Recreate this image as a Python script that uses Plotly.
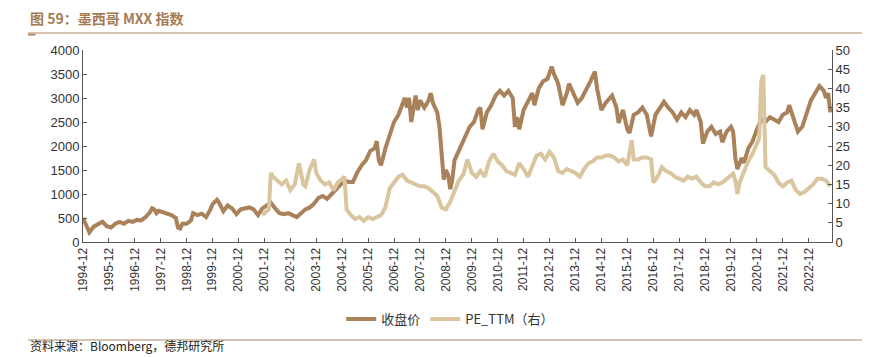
import plotly.graph_objects as go

close_dates = ["1994-12","1995-01","1995-03","1995-05","1995-07","1995-09","1995-11",
"1996-01","1996-03","1996-05","1996-07","1996-09","1996-11",
"1997-01","1997-03","1997-05","1997-07","1997-08","1997-09","1997-10","1997-11",
"1998-01","1998-03","1998-05","1998-07","1998-08","1998-09","1998-10","1998-12",
"1999-02","1999-03","1999-05","1999-07","1999-09","1999-11","1999-12",
"2000-02","2000-03","2000-05","2000-07","2000-09","2000-11",
"2001-01","2001-03","2001-05","2001-07","2001-09","2001-11",
"2002-01","2002-03","2002-05","2002-07","2002-09","2002-11",
"2003-01","2003-03","2003-05","2003-07","2003-09","2003-11",
"2004-01","2004-03","2004-05","2004-07","2004-09","2004-11",
"2005-01","2005-03","2005-05","2005-07","2005-09","2005-11",
"2006-01","2006-03","2006-04","2006-05","2006-06","2006-08","2006-10","2006-12",
"2007-02","2007-04","2007-05","2007-06","2007-07","2007-08","2007-09","2007-10","2007-11","2007-12",
"2008-02","2008-04","2008-05","2008-06","2008-07","2008-08","2008-09","2008-10","2008-11","2008-12",
"2009-01","2009-02","2009-03","2009-04","2009-05","2009-07","2009-09","2009-11",
"2010-01","2010-03","2010-04","2010-05","2010-07","2010-09","2010-11",
"2011-01","2011-03","2011-05","2011-07","2011-08","2011-09","2011-10","2011-12",
"2012-02","2012-04","2012-05","2012-07","2012-09","2012-11",
"2013-01","2013-02","2013-04","2013-06","2013-08","2013-09","2013-11",
"2014-01","2014-03","2014-05","2014-07","2014-08","2014-09","2014-10","2014-11","2014-12",
"2015-02","2015-04","2015-05","2015-07","2015-08","2015-10","2015-12",
"2016-01","2016-03","2016-05","2016-07","2016-09","2016-11",
"2017-01","2017-03","2017-05","2017-07","2017-09","2017-11",
"2018-01","2018-03","2018-05","2018-07","2018-08","2018-10","2018-11",
"2019-01","2019-03","2019-05","2019-07","2019-08","2019-10","2019-12",
"2020-01","2020-02","2020-03","2020-05","2020-06","2020-08","2020-10","2020-12",
"2021-02","2021-04","2021-06","2021-08","2021-10","2021-12",
"2022-02","2022-03","2022-05","2022-07","2022-09","2022-11",
"2023-01","2023-03","2023-05","2023-06","2023-07","2023-08","2023-09","2023-10"]
close_values = [500,380,200,320,380,420,330,
300,380,420,380,440,420,
460,450,520,620,700,680,600,650,
620,600,560,500,300,280,380,380,
450,600,560,590,520,680,790,
880,820,640,760,700,580,
680,700,720,680,560,700,
760,820,700,600,580,600,
560,520,600,680,720,800,
920,960,900,1000,1080,1200,
1280,1250,1250,1450,1600,1700,
1900,1950,2100,1700,1600,1950,2200,2500,
2650,2900,3000,2800,3000,2500,2800,3050,2750,2950,
2800,2950,3100,2900,2800,2700,2400,1700,1300,1500,
1400,1100,1300,1700,1800,2000,2200,2400,
2500,2750,2800,2350,2700,2850,3050,
3150,3050,3150,3000,2400,2600,2350,2750,
2950,3100,2850,3200,3350,3400,
3650,3500,3300,2850,3100,3300,3100,
2900,3000,3200,3350,3450,3550,3200,3000,2750,
2900,3000,3050,2800,2480,2750,2350,
2270,2650,2700,2800,2650,2200,
2650,2800,2920,2800,2700,2550,
2700,2600,2750,2650,2750,2500,2050,
2300,2400,2250,2300,2080,2300,2400,
2300,1750,1520,1750,1650,1950,2100,2350,
2550,2500,2600,2550,2500,2650,
2700,2850,2600,2300,2400,2650,
2950,3100,3250,3200,3150,3000,3100,2700]

pe_dates = ["2001-11","2001-12","2002-02","2002-03","2002-04","2002-06","2002-08","2002-10","2002-12",
"2003-02","2003-03","2003-04","2003-06","2003-07","2003-09","2003-11","2003-12",
"2004-02","2004-04","2004-06","2004-08","2004-10","2004-12",
"2005-01","2005-02","2005-04","2005-06","2005-08","2005-10","2005-12",
"2006-02","2006-04","2006-06","2006-08","2006-10","2006-12",
"2007-02","2007-04","2007-06","2007-08","2007-10","2007-12",
"2008-02","2008-04","2008-06","2008-08","2008-10","2008-12",
"2009-02","2009-04","2009-06","2009-08","2009-10","2009-12",
"2010-02","2010-04","2010-06","2010-08","2010-10","2010-12",
"2011-02","2011-04","2011-06","2011-08","2011-10","2011-12",
"2012-02","2012-04","2012-06","2012-08","2012-10","2012-12",
"2013-02","2013-04","2013-06","2013-08","2013-10","2013-12",
"2014-02","2014-04","2014-06","2014-08","2014-10","2014-12",
"2015-02","2015-04","2015-06","2015-08","2015-10","2015-12",
"2016-02","2016-03","2016-05","2016-07","2016-09","2016-11","2016-12",
"2017-02","2017-04","2017-06","2017-08","2017-10","2017-12",
"2018-02","2018-04","2018-06","2018-08","2018-10","2018-12",
"2019-02","2019-04","2019-06","2019-08","2019-10","2019-12",
"2020-01","2020-02","2020-03","2020-04","2020-06","2020-08","2020-10","2020-12",
"2021-01","2021-02","2021-03","2021-04","2021-06","2021-08","2021-10","2021-12",
"2022-02","2022-04","2022-06","2022-08","2022-10","2022-12",
"2023-02","2023-04","2023-06","2023-08","2023-10"]
pe_values = [7.0,7.5,8.5,18,17,16,15,16,13.5,
15,18,20.5,15,14.5,19,21.5,18,
16,15,15.5,13.5,15.5,16.5,
17,8.5,7,6,6.5,5.5,6.5,
6,6.5,7,9,14,15.5,
17,17.5,16,15.5,15,14.5,
14.5,14,13,12,9,8.5,
10.5,13.5,16,17.5,21.5,18,
17,18.5,17,21,23,21,
20,18.5,18,17.5,20.5,19,
17,20,22.5,23,21.5,23.5,
22,18.5,18,19,18.5,18,
17,19,20.5,21,22,22,
22.5,22.5,22,21,21.5,20,
26.5,21.5,21.5,22,22,21.5,15.5,
17,19.5,18.5,18,17,16.5,
16,17,16.5,17,15.5,14.5,
14.5,15.5,15,15.5,16.5,17.5,
17.8,16,12.5,15.5,18.5,21,23,25.5,
27,42,43.5,19.5,18.5,17.5,15.5,14.5,
15.5,16,13.5,12.5,13,14,
15,16.5,16.5,16,14.5]

x_ticks_start = "1994-12-01"
brown = "#A9815A"
light = "#D9C59E"

fig = go.Figure()
fig.add_trace(go.Scatter(x=close_dates, y=close_values, name="收盘价", mode="lines",
                         line=dict(color=brown, width=4)))
fig.add_trace(go.Scatter(x=pe_dates, y=pe_values, name="PE_TTM（右）", mode="lines",
                         line=dict(color=light, width=4), yaxis="y2"))

axis_font = dict(family="Liberation Sans, Arial, sans-serif", size=13, color="#333333")
fig.update_layout(
    width=862, height=349,
    margin=dict(l=75, r=38, t=42, b=115, autoexpand=False),
    paper_bgcolor="white", plot_bgcolor="white",
    showlegend=True,
    legend=dict(orientation="h", x=0.513, xanchor="center", xref="container",
                y=0.109, yanchor="middle", yref="container",
                font=dict(family="Noto Sans CJK SC, Liberation Sans", size=13, color="#333333"),
                itemwidth=30, tracegroupgap=0),
    xaxis=dict(type="date", range=["1994-12-01", "2023-10-25"], tick0=x_ticks_start, dtick="M12",
               tickformat="%Y-%m", tickangle=-90, ticks="inside", ticklen=4, tickcolor="#555555",
               showline=True, linecolor="#555555", linewidth=1, showgrid=False, zeroline=False,
               automargin=False,
               tickfont=dict(family="Liberation Sans, Arial, sans-serif", size=12, color="#333333")),
    yaxis=dict(range=[0, 4000], dtick=500, ticks="inside", ticklen=4, tickcolor="#555555",
               showline=True, linecolor="#555555", linewidth=1, showgrid=False, zeroline=False,
               automargin=False, tickfont=axis_font),
    yaxis2=dict(range=[0, 50], dtick=5, overlaying="y", side="right", ticks="inside", ticklen=4,
                tickcolor="#555555", showline=True, linecolor="#555555", linewidth=1,
                showgrid=False, zeroline=False, automargin=False, tickfont=axis_font),
    shapes=[
        dict(type="line", xref="paper", yref="paper", x0=-0.0734, x1=1.06, y0=1.0885, y1=1.0885,
             line=dict(color="#B08A62", width=1.2)),
        dict(type="line", xref="paper", yref="paper", x0=-0.0734, x1=-0.0634, y0=1.08, y1=1.08,
             line=dict(color="#B08A62", width=2)),
        dict(type="line", xref="paper", yref="paper", x0=-0.0734, x1=1.06, y0=-0.5104, y1=-0.5104,
             line=dict(color="#B08A62", width=1.2)),
    ],
    annotations=[
        dict(text="<b>图 59：墨西哥 MXX 指数</b>", xref="paper", yref="paper", x=-0.0734, y=1.167,
             xanchor="left", yanchor="middle", showarrow=False,
             font=dict(family="Noto Sans CJK SC", size=14, color="#A57C52")),
        dict(text="资料来源：Bloomberg，德邦研究所", xref="paper", yref="paper", x=-0.0734, y=-0.592,
             xanchor="left", yanchor="bottom", showarrow=False,
             font=dict(family="Noto Sans CJK SC, Liberation Sans", size=12, color="#222222")),
    ],
)
fig.write_html("out.html")
